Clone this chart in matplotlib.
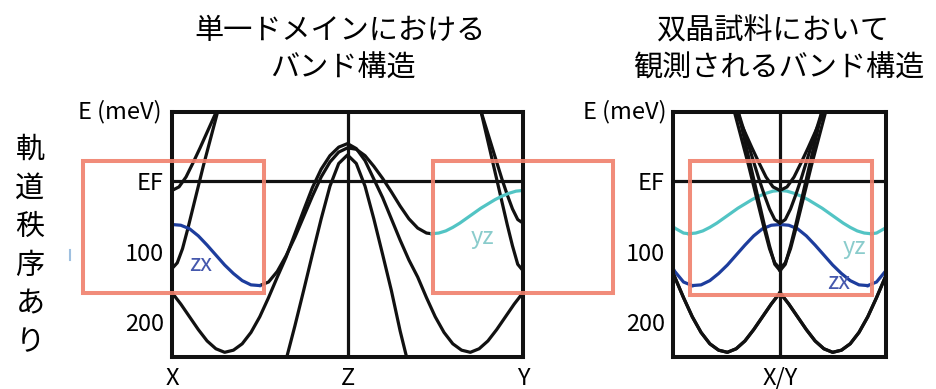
import matplotlib
matplotlib.use("Agg")
import matplotlib.pyplot as plt
from matplotlib.patches import Rectangle
from matplotlib.lines import Line2D

plt.rcParams['font.family'] = ['Noto Sans CJK JP', 'DejaVu Sans']

# Band dispersions along X(0) - Z(1) - Y(2); energies in meV below EF
band_a_k = [0.00, 0.05, 0.10, 0.15, 0.20, 0.25, 0.30, 0.35, 0.40, 0.45, 0.50,
            0.55, 0.60, 0.65, 0.70, 0.75, 0.80, 0.85, 0.90, 0.95, 1.00,
            1.05, 1.10, 1.15, 1.20, 1.25, 1.30, 1.35, 1.40, 1.45, 1.50,
            1.55, 1.60, 1.65, 1.70, 1.75, 1.80, 1.85, 1.90, 1.95, 2.00]
band_a_e = [158, 174, 192, 210, 226, 237, 242, 239, 230, 214, 192,
            165, 136, 108, 75, 42, 10, -16, -35, -47, -52,
            -45, -28, -2, 24, 54, 84, 112, 136, 165, 192,
            214, 230, 239, 242, 237, 226, 210, 192, 174, 158]

zx_k = [0.00, 0.05, 0.10, 0.15, 0.20, 0.25, 0.30, 0.35, 0.40, 0.45, 0.50]
zx_e = [62, 63, 68, 78, 91, 105, 119, 131, 141, 147, 148]

hump_k = [0.50, 0.55, 0.60, 0.65, 0.70, 0.75, 0.80, 0.85, 0.90, 0.95, 1.00,
          1.05, 1.10, 1.15, 1.20, 1.25, 1.30, 1.35, 1.40, 1.45, 1.48]
hump_e = [148, 143, 128, 106, 80, 51, 22, -5, -26, -40, -46,
          -44, -35, -20, -3, 16, 36, 54, 67, 74, 75]

yz_k = [1.48, 1.52, 1.56, 1.60, 1.64, 1.68, 1.72, 1.76, 1.80, 1.84, 1.88, 1.92, 1.96, 2.00]
yz_e = [75, 74, 71, 66, 60, 53, 46, 39, 33, 27, 22, 18, 15, 14]

steep_k = [0.64, 0.70, 0.75, 0.80, 0.85, 0.90, 0.95, 1.00, 1.05, 1.10, 1.15, 1.20, 1.25, 1.30, 1.35]
steep_e = [262, 205, 155, 104, 54, 8, -24, -36, -24, 8, 54, 104, 155, 212, 262]

x1_k = [0.00, 0.04, 0.08, 0.12, 0.16, 0.20, 0.24, 0.28]
x1_e = [14, 9, -5, -25, -46, -68, -90, -112]
x2_k = [0.00, 0.03, 0.06, 0.09, 0.12, 0.15, 0.18, 0.21, 0.24, 0.27]
x2_e = [124, 116, 96, 68, 38, 8, -22, -50, -78, -106]

y1_k = [2.00, 1.97, 1.94, 1.91, 1.88, 1.85, 1.82, 1.79, 1.76, 1.73]
y1_e = [60, 55, 40, 20, -2, -26, -50, -74, -98, -122]
y2_k = [2.00, 1.97, 1.94, 1.91, 1.88, 1.85, 1.82, 1.79, 1.76, 1.73]
y2_e = [127, 118, 92, 62, 30, -2, -34, -66, -98, -130]

e_ticks = [0, 100, 200]
e_tick_labels = ['EF', '100', '200']
k_ticks = [0, 1, 2]
k_tick_labels = ['X', 'Z', 'Y']

BLACK = '#111111'
BLUE = '#1d3d9d'
CYAN = '#52c4c4'
RED = '#f0806c'
LW = 2.3

W, H = 936, 389
fig = plt.figure(figsize=(W / 100, H / 100), dpi=100)


def axes_px(x0, x1, y0, y1):
    return fig.add_axes([x0 / W, 1 - y1 / H, (x1 - x0) / W, (y1 - y0) / H])


def style(ax, xticks, xlabels):
    ax.set_ylim(248.6, -96.5)
    ax.set_yticks(e_ticks)
    ax.set_yticklabels(e_tick_labels)
    ax.set_xticks(xticks)
    ax.set_xticklabels(xlabels)
    ax.tick_params(length=0, labelsize=17, pad=6)
    ax.tick_params(axis='x', pad=7)
    for s in ax.spines.values():
        s.set_linewidth(2.9)
        s.set_color(BLACK)
    ax.axhline(0, color=BLACK, lw=LW)
    ax.text(-0.03, 1.0, 'E (meV)', transform=ax.transAxes, ha='right',
            va='center', fontsize=17)


# single-domain band structure
ax1 = axes_px(172, 523, 112, 357)
ax1.set_xlim(0, 2)
style(ax1, k_ticks, k_tick_labels)
ax1.axvline(1, color=BLACK, lw=LW)
for k, e in [(band_a_k, band_a_e), (hump_k, hump_e), (steep_k, steep_e),
             (x1_k, x1_e), (x2_k, x2_e), (y1_k, y1_e), (y2_k, y2_e)]:
    ax1.plot(k, e, color=BLACK, lw=LW, solid_capstyle='round')
ax1.plot(zx_k, zx_e, color=BLUE, lw=LW)
ax1.plot(yz_k, yz_e, color=CYAN, lw=LW)
ax1.text(0.165, 119, 'zx', color='#4558ad', fontsize=17, ha='center', va='center')
ax1.text(1.77, 80, 'yz', color='#8acccc', fontsize=17, ha='center', va='center')
for x0, w in [(-0.507, 1.031), (1.487, 1.026)]:
    ax1.add_patch(Rectangle((x0, -28), w, 186.5, fill=False, ec=RED, lw=2.9,
                            clip_on=False, zorder=5, alpha=0.9))

# twinned sample: X and Y dispersions folded onto one axis
ax2 = axes_px(673, 886, 112, 357)
ax2.set_xlim(-0.610, 0.604)
style(ax2, [0], ['X/Y'])
ax2.axvline(0, color=BLACK, lw=LW)
for sign in (1, -1):
    ax2.plot([sign * k for k in zx_k], zx_e, color=BLUE, lw=LW)
    ax2.plot([sign * k for k in hump_k], hump_e, color=BLUE, lw=LW)
    ax2.plot([sign * (2 - k) for k in yz_k], yz_e, color=CYAN, lw=LW)
    ax2.plot([sign * (2 - k) for k in hump_k], hump_e, color=CYAN, lw=LW)
for sign in (1, -1):
    ax2.plot([sign * k for k in band_a_k], band_a_e, color=BLACK, lw=LW)
    ax2.plot([sign * (2 - k) for k in band_a_k], band_a_e, color=BLACK, lw=LW)
    for k, e in [(x1_k, x1_e), (x2_k, x2_e)]:
        ax2.plot([sign * v for v in k], e, color=BLACK, lw=LW)
    for k, e in [(y1_k, y1_e), (y2_k, y2_e)]:
        ax2.plot([sign * (2 - v) for v in k], e, color=BLACK, lw=LW)
ax2.text(0.422, 95, 'yz', color='#8acccc', fontsize=17, ha='center', va='center')
ax2.text(0.336, 143, 'zx', color='#4558ad', fontsize=17, ha='center', va='center')
ax2.add_patch(Rectangle((-0.513, -28), 1.037, 189, fill=False, ec=RED, lw=2.9,
                        clip_on=False, zorder=5, alpha=0.9))

# titles and side note
fig.text(340 / W, 1 - 31 / H, '単一ドメインにおける', ha='center', va='center', fontsize=21)
fig.text(343 / W, 1 - 69 / H, 'バンド構造', ha='center', va='center', fontsize=21)
fig.text(773 / W, 1 - 31 / H, '双晶試料において', ha='center', va='center', fontsize=21)
fig.text(779 / W, 1 - 69 / H, '観測されるバンド構造', ha='center', va='center', fontsize=21)
for i, ch in enumerate('軌道秩序あり'):
    fig.text(30 / W, 1 - (150 + 38.5 * i) / H, ch, ha='center', va='center', fontsize=21)
fig.add_artist(Line2D([70 / W, 70 / W], [1 - 250 / H, 1 - 260 / H],
                      color='#9fc0e0', lw=1.5))

fig.savefig('out.png', dpi=100, facecolor='white')
